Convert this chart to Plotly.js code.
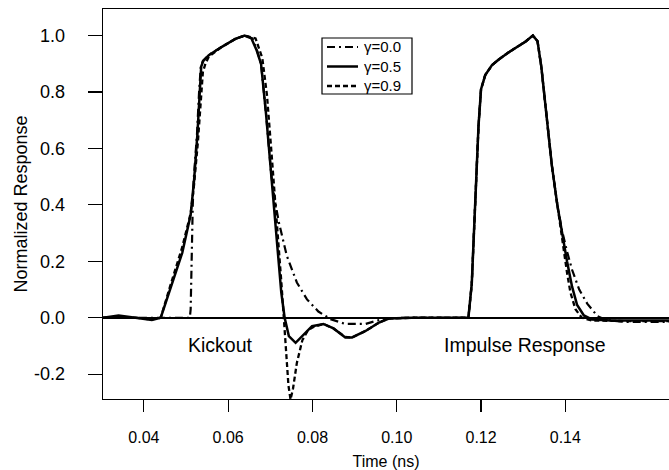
<!DOCTYPE html>
<html>
<head>
<meta charset="utf-8">
<script src="https://cdn.plot.ly/plotly-3.0.1.min.js"></script>
<style>html,body{margin:0;padding:0;background:#fff;}#chart{width:669px;height:470px;}</style>
</head>
<body>
<div id="chart"></div>
<script>
// gamma = 0.0 (dash-dot)
const t00 = [0.0303,0.0340,0.0380,0.0414,0.0459,0.0509,0.0511,0.0513,0.0516,0.0518,0.0526,0.0531,0.0535,0.0540,0.0553,0.0585,0.0617,0.0641,0.0657,0.0668,0.0678,0.0690,0.0702,0.0708,0.0720,0.0739,0.0763,0.0787,0.0814,0.0843,0.0866,0.0878,0.0926,0.0950,0.0973,0.1036,0.1092,0.1149,0.1170,0.1178,0.1186,0.1194,0.1200,0.1210,0.1226,0.1242,0.1265,0.1305,0.1323,0.1334,0.1343,0.1357,0.1368,0.1381,0.1392,0.1404,0.1416,0.1433,0.1452,0.1476,0.1496,0.1544,0.1601,0.1647];
const v00 = [0.000,0.004,0.000,0.000,0.000,0.000,0.030,0.250,0.400,0.485,0.650,0.800,0.890,0.910,0.930,0.960,0.988,1.000,0.990,0.950,0.900,0.720,0.510,0.440,0.340,0.220,0.125,0.065,0.022,-0.005,-0.015,-0.022,-0.022,-0.012,-0.002,0.000,0.000,0.000,0.000,0.120,0.400,0.680,0.810,0.860,0.895,0.915,0.940,0.978,1.000,0.980,0.890,0.700,0.540,0.400,0.310,0.235,0.170,0.100,0.050,0.006,-0.008,-0.015,-0.015,-0.015];

// gamma = 0.5 (solid)
const t05 = [0.0303,0.0340,0.0380,0.0403,0.0419,0.0440,0.0462,0.0491,0.0511,0.0519,0.0527,0.0532,0.0536,0.0541,0.0554,0.0585,0.0617,0.0639,0.0655,0.0667,0.0678,0.0690,0.0702,0.0713,0.0726,0.0734,0.0744,0.0760,0.0779,0.0799,0.0826,0.0850,0.0878,0.0894,0.0926,0.0958,0.0981,0.1036,0.1092,0.1149,0.1170,0.1178,0.1186,0.1194,0.1200,0.1210,0.1226,0.1242,0.1265,0.1305,0.1323,0.1334,0.1343,0.1357,0.1368,0.1381,0.1392,0.1404,0.1416,0.1428,0.1444,0.1463,0.1510,0.1647];
const v05 = [0.000,0.008,0.000,-0.005,-0.008,0.000,0.100,0.230,0.365,0.485,0.650,0.800,0.890,0.910,0.930,0.960,0.988,1.000,0.990,0.950,0.900,0.720,0.510,0.290,0.090,0.000,-0.065,-0.089,-0.059,-0.030,-0.022,-0.038,-0.070,-0.070,-0.047,-0.017,-0.003,0.000,0.000,0.000,0.000,0.120,0.400,0.680,0.810,0.860,0.895,0.915,0.940,0.978,1.000,0.980,0.890,0.700,0.540,0.400,0.300,0.200,0.110,0.045,0.008,-0.006,-0.010,-0.010];

// gamma = 0.9 (dashed)
const t09 = [0.0303,0.0380,0.0419,0.0440,0.0462,0.0491,0.0511,0.0519,0.0528,0.0535,0.0540,0.0546,0.0554,0.0585,0.0617,0.0639,0.0665,0.0681,0.0692,0.0702,0.0710,0.0718,0.0726,0.0732,0.0738,0.0743,0.0748,0.0754,0.0763,0.0776,0.0789,0.0802,0.0826,0.0850,0.0878,0.0894,0.0926,0.0958,0.0981,0.1036,0.1092,0.1149,0.1170,0.1178,0.1186,0.1194,0.1200,0.1210,0.1226,0.1242,0.1265,0.1305,0.1323,0.1334,0.1343,0.1357,0.1368,0.1381,0.1392,0.1404,0.1412,0.1424,0.1439,0.1463,0.1544,0.1647];
const v09 = [0.000,0.000,-0.006,0.000,0.110,0.250,0.370,0.470,0.620,0.760,0.870,0.900,0.925,0.960,0.988,1.000,0.990,0.920,0.790,0.600,0.450,0.280,0.130,0.000,-0.136,-0.240,-0.290,-0.250,-0.160,-0.080,-0.045,-0.033,-0.022,-0.038,-0.068,-0.070,-0.047,-0.017,-0.003,0.000,0.000,0.000,0.000,0.120,0.400,0.680,0.810,0.860,0.895,0.915,0.940,0.978,1.000,0.980,0.890,0.700,0.540,0.400,0.280,0.160,0.090,0.030,0.000,-0.010,-0.012,-0.012];

const seriesNames = ['\u03b3=0.0','\u03b3=0.5','\u03b3=0.9'];
const seriesDash = ['8px,4px,2px,4px','solid','5px,3px'];
const seriesWidth = [2.2,2.5,2.3];
const xTicks = [0.04,0.06,0.08,0.10,0.12,0.14];
const xTickText = ['0.04','0.06','0.08','0.10','0.12','0.14'];
const yTicks = [-0.2,0.0,0.2,0.4,0.6,0.8,1.0];
const yTickText = ['-0.2','0.0','0.2','0.4','0.6','0.8','1.0'];
const noteText = ['Kickout','Impulse Response'];
const noteX = [0.0582,0.1305];
const noteY = [-0.096,-0.096];

const FONT = 'Liberation Sans, Arial, Helvetica, sans-serif';
const W = 669, H = 470, ML = 103, MR = 0, MT = 9, MB = 71;
const PW = W - ML - MR, PH = H - MT - MB;
const px = x => (x - ML) / PW;          // pixel -> paper x
const py = y => (H - MB - y) / PH;      // pixel -> paper y

const xs = [t00, t05, t09], ys = [v00, v05, v09];
const traces = xs.map((x, i) => ({
  x: x, y: ys[i], name: seriesNames[i], mode: 'lines', showlegend: false,
  line: {color: '#000', width: seriesWidth[i], dash: seriesDash[i]}
}));

// hand-built legend box (compact row spacing, like the reference)
const LEG = {x0: 322, x1: 412, y0: 38, y1: 94, rows: [47, 66.5, 86], s0: 327, s1: 358, tx: 362};
const shapes = [
  {type: 'rect', xref: 'paper', yref: 'paper', x0: px(LEG.x0), x1: px(LEG.x1), y0: py(LEG.y1), y1: py(LEG.y0),
   line: {color: '#000', width: 1.2}, fillcolor: '#fff', layer: 'above'}
].concat(seriesNames.map((s, i) => ({
  type: 'line', xref: 'paper', yref: 'paper', x0: px(LEG.s0), x1: px(LEG.s1), y0: py(LEG.rows[i]), y1: py(LEG.rows[i]),
  line: {color: '#000', width: seriesWidth[i], dash: seriesDash[i]}, layer: 'above'
})));

const annotations = noteText.map((s, i) => ({
  x: noteX[i], y: noteY[i], xref: 'x', yref: 'y', text: s, showarrow: false,
  font: {family: FONT, size: 19.5, color: '#000'}
})).concat(seriesNames.map((s, i) => ({
  x: px(LEG.tx), y: py(LEG.rows[i]), xref: 'paper', yref: 'paper', xanchor: 'left', yanchor: 'middle',
  text: s, showarrow: false, font: {family: FONT, size: 15, color: '#000'}
})));

const layout = {
  width: W, height: H,
  margin: {l: ML, r: MR, t: MT, b: MB, pad: 0},
  paper_bgcolor: '#fff', plot_bgcolor: '#fff',
  font: {family: FONT, size: 15, color: '#000'},
  showlegend: false,
  xaxis: {
    range: [0.0303, 0.1646], showgrid: false, zeroline: false,
    showline: true, linecolor: '#000', linewidth: 1.3, mirror: true,
    ticks: 'outside', ticklen: 12, tickwidth: 1.2, tickcolor: '#000',
    tickvals: xTicks, ticktext: xTickText, ticklabelstandoff: 11,
    tickfont: {family: FONT, size: 16, color: '#000'},
    title: {text: 'Time (ns)', font: {family: FONT, size: 16, color: '#000'}, standoff: 11}
  },
  yaxis: {
    range: [-0.288, 1.094], showgrid: false,
    zeroline: true, zerolinecolor: '#000', zerolinewidth: 1.6,
    showline: true, linecolor: '#000', linewidth: 1.3, mirror: false,
    ticks: 'outside', ticklen: 14, tickwidth: 1.2, tickcolor: '#000',
    tickvals: yTicks, ticktext: yTickText, ticklabelstandoff: 19,
    tickfont: {family: FONT, size: 18, color: '#000'},
    title: {text: 'Normalized Response', font: {family: FONT, size: 18, color: '#000'}, standoff: 1}
  },
  shapes: shapes,
  annotations: annotations
};

Plotly.newPlot('chart', traces, layout, {displayModeBar: false, staticPlot: true});
</script>
</body>
</html>
